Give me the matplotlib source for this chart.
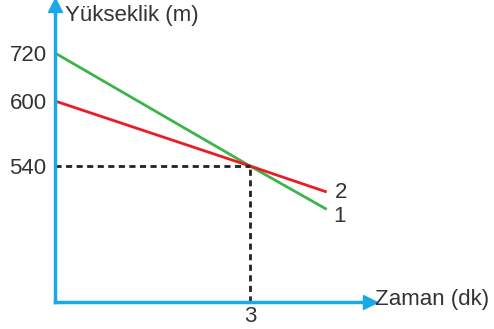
import numpy as np
import matplotlib
matplotlib.use("Agg")
import matplotlib.pyplot as plt

# values (schematic drawing, y axis not to scale)
time = [0, 3, 4.18]
height_1 = [720, 540, 500]   # green line "1"
height_2 = [600, 540, 516]   # red line "2"
y_ticks = [540, 600, 720]
x_ticks = [3]
line_names = ["1", "2"]

BLUE = "#1aa9e8"
GREEN = "#3cb44a"
RED = "#ec1c24"
TXT = "#333333"
FS = 16

plt.rcParams["font.family"] = ["Liberation Sans", "DejaVu Sans"]

# piecewise mapping of heights onto the drawing (the picture is a sketch)
h_val = [0, 480, 540, 600, 720, 800]
h_pos = [0, 71, 136, 201, 249, 297]

def fwd(v):
    return np.interp(v, h_val, h_pos)

def inv(p):
    return np.interp(p, h_pos, h_val)

fig = plt.figure(figsize=(4.94, 3.29), dpi=100)
W, H = 494, 329
x0, y0 = 55, 302
x_tip, y_tip = 370, 5
ax = fig.add_axes([x0 / W, (H - y0) / H, (x_tip - x0) / W, (y0 - y_tip) / H])
ax.set_yscale("function", functions=(fwd, inv))
ax.set_ylim(0, 800)
ax.set_xlim(0, (x_tip - x0) / 65.0)

ax.plot(time, height_1, color=GREEN, lw=2, solid_capstyle="butt")
ax.plot(time, height_2, color=RED, lw=2, solid_capstyle="butt")

# dashed guides to the crossing point
ax.plot([0, x_ticks[0]], [y_ticks[0], y_ticks[0]], ls=(0, (2.2, 1.6)), color="#222222", lw=2)
ax.plot([x_ticks[0], x_ticks[0]], [0, y_ticks[0]], ls=(0, (2.2, 1.6)), color="#222222", lw=2)

ax.annotate(line_names[0], (time[-1], height_1[-1]), xytext=(5, -5), textcoords="offset points",
            fontsize=FS, color=TXT, va="center", ha="left")
ax.annotate(line_names[1], (time[-1], height_2[-1]), xytext=(6, 0), textcoords="offset points",
            fontsize=FS, color=TXT, va="center", ha="left")

for s in ["top", "right"]:
    ax.spines[s].set_visible(False)
for s in ["left", "bottom"]:
    ax.spines[s].set_color(BLUE)
    ax.spines[s].set_linewidth(2.5)
ax.plot(1, 0, ">", color=BLUE, ms=10, transform=ax.transAxes, clip_on=False)
ax.plot(0, 1, "^", color=BLUE, ms=10, transform=ax.transAxes, clip_on=False)

ax.set_yticks(y_ticks)
ax.set_yticklabels([str(v) for v in y_ticks])
ax.set_xticks(x_ticks)
ax.set_xticklabels([str(v) for v in x_ticks])
ax.yaxis.set_minor_locator(matplotlib.ticker.NullLocator())
ax.tick_params(length=0, labelsize=FS, colors=TXT, pad=6)
ax.tick_params(axis="x", pad=3)

fig.text(65 / W, 1 - 16 / H, "Yükseklik (m)", fontsize=FS, color=TXT, va="center", ha="left")
fig.text(375 / W, 1 - 300 / H, "Zaman (dk)", fontsize=FS, color=TXT, va="center", ha="left")

fig.savefig("out.png", dpi=100)
